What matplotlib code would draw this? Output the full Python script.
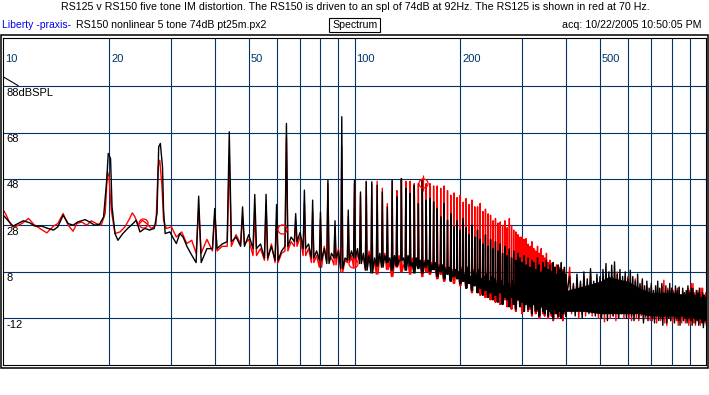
import matplotlib
matplotlib.use("Agg")
import matplotlib.pyplot as plt
from matplotlib.patches import Rectangle
from matplotlib.lines import Line2D
import matplotlib.transforms as mtransforms

plt.rcParams['font.family'] = ['Liberation Sans', 'DejaVu Sans']

# ---------------- values ----------------
# RS150 (black) below the comb, 10..34 Hz
blk_lo_f = [10.0, 10.3, 10.66, 11.0, 11.4, 11.9, 12.3, 12.85, 13.4, 13.9,
            14.3, 14.8, 15.3, 15.8, 16.3, 17.1, 17.6, 18.2, 18.8, 19.3,
            19.7, 19.9, 20.2, 20.4, 20.8, 21.2, 21.9, 22.6, 23.4, 23.9,
            24.5, 25.3, 26.1, 26.9, 27.4, 27.7, 28.0, 28.4, 28.6, 28.9,
            29.8, 30.5, 31.1, 31.8, 32.5, 33.4, 34.4]
blk_lo_db = [32.4, 30.2, 27.7, 28.8, 30.0, 29.1, 27.7, 27.7, 26.7, 26.0,
             27.4, 32.4, 28.8, 28.1, 29.5, 30.5, 29.5, 28.1, 28.5, 31.7,
             47.5, 59.0, 56.8, 36.0, 24.5, 21.6, 24.5, 26.7, 28.8, 30.2,
             25.2, 26.7, 26.0, 26.7, 33.1, 61.8, 63.3, 53.2, 34.6, 24.5,
             25.2, 22.4, 20.2, 24.5, 23.0, 18.7, 15.2]

# RS125 (red) below the comb
red_lo_f = [10.0, 10.2, 10.4, 10.6, 10.9, 11.3, 11.8, 12.2, 12.7, 13.3,
            13.9, 14.3, 14.8, 15.3, 15.8, 16.2, 16.7, 17.3, 17.8, 18.4,
            19.0, 19.5, 19.8, 20.0, 20.3, 20.8, 21.5, 22.2, 22.9, 23.3,
            23.7, 24.2, 24.9, 25.6, 26.4, 27.2, 27.6, 27.9, 28.3, 28.6,
            29.1, 30.1, 31.1, 32.2, 33.3, 34.4]
red_lo_db = [34.6, 32.4, 29.5, 27.4, 27.7, 28.8, 31.0, 28.5, 26.7, 24.8,
             27.7, 28.8, 33.1, 28.1, 25.5, 28.8, 29.5, 28.1, 30.0, 28.8,
             28.1, 33.1, 51.0, 48.9, 34.6, 24.5, 25.2, 27.4, 31.0, 33.4,
             31.7, 28.1, 30.2, 28.8, 26.7, 28.1, 53.2, 56.1, 44.6, 30.2,
             26.7, 27.4, 23.0, 25.2, 20.2, 21.6]

# IM comb lines 36..400 Hz (4 Hz apart)
comb_f = [36, 40, 44, 48, 52, 56, 60, 64, 68, 72,
          76, 80, 84, 88, 92, 96, 100, 104, 108, 112,
          116, 120, 124, 128, 132, 136, 140, 144, 148, 152,
          156, 160, 164, 168, 172, 176, 180, 184, 188, 192,
          196, 200, 204, 208, 212, 216, 220, 224, 228, 232,
          236, 240, 244, 248, 252, 256, 260, 264, 268, 272,
          276, 280, 284, 288, 292, 296, 300, 304, 308, 312,
          316, 320, 324, 328, 332, 336, 340, 344, 348, 352,
          356, 360, 364, 368, 372, 376, 380, 384, 388, 392,
          396, 400]

blk_top = [40.6, 35.3, 68.3, 36.0, 41.3, 41.4, 37.0, 71.9, 33.1, 43.2,
           38.9, 33.8, 47.5, 30.0, 74.8, 34.6, 47.5, 42.4, 46.8, 46.8,
           45.3, 42.4, 36.0, 47.5, 40.3, 48.2, 44.0, 41.8, 45.3, 37.4,
           47.5, 38.9, 39.6, 38.1, 35.3, 31.7, 37.4, 30.2, 33.0, 27.4,
           30.0, 26.0, 31.0, 27.0, 24.0, 28.0, 23.0, 26.0, 22.0, 20.0,
           24.0, 19.0, 22.0, 18.0, 21.0, 17.0, 20.0, 16.0, 19.0, 15.0,
           18.0, 14.0, 17.0, 13.0, 16.0, 14.0, 12.0, 15.0, 11.0, 14.0,
           10.0, 13.0, 12.0, 9.0, 14.0, 11.0, 8.0, 12.0, 10.0, 13.0,
           9.0, 11.0, 8.0, 12.0, 10.0, 7.0, 11.0, 9.0, 12.0, 8.0,
           10.0, 7.0]
blk_bot = [12, 18, 21, 19, 18, 14, 13, 19, 21, 18,
           14, 13, 11.6, 14, 9.4, 13, 14, 11.6, 8.7, 7.5,
           10.5, 10, 12, 8.7, 10.5, 13, 8.7, 10.5, 7.5, 9.4,
           7.5, 10, 8, 9, 6, 8, 5, 7, 4, 6,
           5, 3, 4, 1, 3, 0, 2, -1, 1, -2,
           0, -3, -1, -4, -2, -5, -1, -6, -3, -4,
           -7, -3, -6, -8, -4, -7, -5, -9, -6, -8,
           -7, -10, -6, -9, -8, -11, -7, -9, -10, -8,
           -11, -9, -10, -12, -8, -10, -11, -9, -12, -10,
           -9, -11]
blk_mid = [18, 20, 23, 24, 20, 19, 17, 23, 25, 20,
           17, 18, 16, 17, 14, 17, 18, 16, 15, 14,
           16, 15, 14, 15, 13, 14, 15, 12, 14, 13,
           12, 13, 11, 12, 10, 11, 9, 10, 8, 9,
           8, 9, 7, 10, 6, 8, 7, 9, 5, 6,
           7, 4, 6, 5, 3, 6, 4, 2, 5, 3,
           1, 4, 2, 3, 0, 2, 3, -1, 2, 1,
           0, 2, -2, 1, 0, -1, 2, -3, 0, 1,
           -2, 0, 1, -3, -1, 0, -2, 1, -1, -3,
           0, -1]

red_top = [35, 33, 58, 31.7, 33, 37.4, 30, 66, 30, 38,
           34, 31, 46, 28, 62, 32, 46, 41, 47, 46,
           47, 44, 37.4, 47, 43, 48, 47, 47, 46, 46,
           48, 46, 46, 45, 45, 44, 45, 43, 41, 42,
           40, 41, 38, 39.6, 37, 38.9, 36, 36, 37.5, 34,
           35, 33, 32.4, 30, 31, 29, 29.5, 28, 30, 27,
           31, 28, 26, 25.2, 24, 23, 23, 22, 22.3, 20,
           19, 21, 18, 17, 19, 16, 18, 15, 14, 16,
           12, 13, 11.7, 12, 10, 11, 9, 10, 8, 9,
           8.8, 7]
red_bot = [16, 17, 19, 20, 15, 13, 12, 17, 19, 15,
           12, 10, 13, 11, 8, 12, 10, 13, 9, 11,
           7, 12, 9, 6, 10, 8, 11, 7, 9, 10,
           6, 8, 7, 9, 5, 7, 4, 8, 5, 3,
           6, 2, 4, 1, 5, -1, 3, 0, -2, 2,
           -3, 1, -4, -1, -5, 0, -6, -2, -4, -7,
           -3, -8, -5, -9, -4, -6, -10, -7, -5, -9,
           -8, -11, -6, -10, -9, -12, -7, -10, -11, -8,
           -12, -9, -11, -13, -10, -8, -12, -11, -9, -13,
           -10, -11]
red_mid = [22, 19, 24, 22, 18, 20, 16, 21, 23, 18,
           15, 19, 14, 18, 13, 15, 16, 14, 17, 12,
           14, 16, 12, 13, 15, 11, 13, 14, 12, 11,
           13, 10, 12, 9, 11, 8, 10, 7, 9, 8,
           7, 10, 6, 8, 5, 9, 4, 7, 3, 6,
           5, 3, 6, 2, 4, 1, 3, 0, 2, -1,
           3, 0, 2, -2, 1, -1, 0, -3, 1, -2,
           -1, -3, 0, -2, -4, 0, -1, -3, -2, -4,
           -3, -1, -4, -2, -5, -3, -1, -4, -2, -5,
           -3, -4]

# noise fuzz 410..1000 Hz: upper / lower excursions every 10 Hz
hf_f = [410, 420, 430, 440, 450, 460, 470, 480, 490, 500,
        510, 520, 530, 540, 550, 560, 570, 580, 590, 600,
        610, 620, 630, 640, 650, 660, 670, 680, 690, 700,
        710, 720, 730, 740, 750, 760, 770, 780, 790, 800,
        810, 820, 830, 840, 850, 860, 870, 880, 890, 900,
        910, 920, 930, 940, 950, 960, 970, 980, 990, 1000]
blk_hf_top = [6, 3, 7, 4, 8, 5, 9.4, 4, 7, 6,
              9, 11.6, 8, 10.9, 12.3, 7, 9, 6, 8, 5,
              8.7, 6, 4, 7, 3, 5, 2, 4, 1, 3,
              0, 2, 4, 1, 3, -1, 2, 0, 3, 1,
              -1, 2, 0, 1.5, -2, 1, -1, 0, 2, -1,
              1, 0.8, -2, 0, -1, 1, -3, -1, -2, -3]
blk_hf_bot = [-9, -11, -8, -12, -9, -10, -8, -11, -9, -12,
              -10, -13, -9, -11, -8, -12, -10, -9, -12, -10,
              -11, -13, -9, -12, -10, -14, -11, -13, -10, -12,
              -14, -11, -13, -12, -15, -11, -14, -12, -13, -11,
              -14, -12, -13, -15, -11, -13, -12, -14, -12, -13,
              -15, -12, -14, -13, -15, -12, -14, -16, -13, -15]
red_hf_top = [10, 2, 4, 3, 6, 2, 7, 3, 5, 2,
              5, 8, 4, 6, 3, 8, 5, 3, 6, 6,
              3, 2, 5, 1, 2, 4, 0, 2, -1, 2,
              -1, 0, 1, -2, 2, 4.4, -1, 1, 0, -2,
              0, -1, 1, 1, -2, 0, -1, -3, 1, 0,
              3, 3, -1, -2, 0, -1, 1, 1, -2, -1]
red_hf_bot = [-10, -9, -12, -10, -11, -9, -11, -10, -12, -11,
              -13.5, -10, -12, -11, -13, -12, -10, -12, -11, -12,
              -13, -11, -12, -13, -11, -13, -12, -11, -13, -13,
              -12, -14, -12, -13, -12, -14, -15, -12, -13, -14,
              -12, -13, -15, -13, -14, -12, -14, -13, -15, -14,
              -13, -14, -15, -12, -14, -15, -13, -15, -14, -13]

# dense core of the black fuzz
core_f = [400, 450, 500, 530, 560, 600, 650, 700, 800, 900, 1000]
core_lo = [-9, -9, -10, -10, -10, -10, -10, -11, -11, -11, -13]
core_hi = [0, 2, 4, 6, 5, 4, 1, -1, -1, -2, -4]

# markers
circ_f = [25.0, 62.0, 99.2]
circ_db = [29.1, 26.6, 11.8]
cursor_f = [156.5]
cursor_db = [46.2]

grid_f = [20, 30, 40, 50, 60, 70, 80, 90, 100, 200, 300, 400, 500, 600, 700, 800, 900]
grid_db = [88, 68, 48, 28, 8, -12]
xlab_f = [10, 20, 50, 100, 200, 500]
ylab = ['88dBSPL', '68', '48', '28', '8', '-12']

GRID = '#003366'


def trace(lo_f, lo_db, top, bot, mid, hf_top, hf_bot):
    # narrow spike on every comb line, noisy floor in between
    xs, ys = list(lo_f), list(lo_db)
    for fi, t, b, m in zip(comb_f, top, bot, mid):
        xs += [fi - 0.6, fi, fi + 0.6, fi + 2]
        ys += [b, t, b, m]
    for fi, t, b in zip(hf_f, hf_top, hf_bot):
        xs += [fi, fi + 5]
        ys += [t, b]
    return xs, ys


fig = plt.figure(figsize=(7.09, 3.95), dpi=100)
W, H = 709.0, 395.0
ax = fig.add_axes([3.3 / W, 30 / H, 702.4 / W, 327 / H])
ax.set_xscale('log')
ax.set_xlim(10, 1000)
ax.set_ylim(-32.1, 108.7)
ax.xaxis.set_major_locator(matplotlib.ticker.NullLocator())
ax.xaxis.set_minor_locator(matplotlib.ticker.NullLocator())
ax.yaxis.set_major_locator(matplotlib.ticker.NullLocator())
for s in ax.spines.values():
    s.set_linewidth(0.8)

for g in grid_f:
    ax.axvline(g, color=GRID, lw=0.8, zorder=1)
for g in grid_db:
    ax.axhline(g, color=GRID, lw=0.8, zorder=1)

rx, ry = trace(red_lo_f, red_lo_db, red_top, red_bot, red_mid, red_hf_top, red_hf_bot)
ax.plot(rx, ry, color='red', lw=1.0, zorder=2)

ax.fill_between(core_f, core_lo, core_hi, color='black', lw=0, zorder=3)
bx, by = trace(blk_lo_f, blk_lo_db, blk_top, blk_bot, blk_mid, blk_hf_top, blk_hf_bot)
ax.plot(bx, by, color='black', lw=1.0, zorder=3)

# markers
ax.plot(circ_f, circ_db, 'o', ms=6.5, mfc='none', mec='red', mew=0.9, zorder=4)
ax.plot(cursor_f, cursor_db, 'o', ms=6.5, mfc='none', mec='red', mew=0.9, zorder=4)
ax.plot(cursor_f, cursor_db, '|', ms=11, mec='red', mew=0.9, zorder=4)

# labels inside the plot
xl_tr = mtransforms.offset_copy(ax.get_xaxis_transform(), fig=fig, x=2, y=0, units='dots')
for f in xlab_f:
    ax.text(f, (365 - 59) / 327, str(f), transform=xl_tr, color=GRID,
            fontsize=8, ha='left', va='center')
yl_tr = mtransforms.offset_copy(ax.get_yaxis_transform(), fig=fig, x=0, y=-6.5, units='dots')
for v, t in zip(grid_db, ylab):
    ax.text(3 / 702.4, v, t, transform=yl_tr, color='black', fontsize=8,
            ha='left', va='center')

# little level marker at top left
ax.add_line(Line2D([0.0003, 0.0209], [0.8807, 0.8547], transform=ax.transAxes,
                   color='black', lw=0.8))

# outer frame
fig.patches.append(Rectangle((0.7 / W, (H - 368) / H), 707.6 / W, 333.5 / H,
                             transform=fig.transFigure, fill=False, ec='black', lw=1.1))

# header
fig.text(355 / W, 1 - 7.5 / H,
         'RS125 v RS150 five tone IM distortion. The RS150 is driven to an spl of 74dB at 92Hz. '
         'The RS125 is shown in red at 70 Hz.', ha='center', va='center', fontsize=7.7)
fig.text(2 / W, 1 - 25.5 / H, 'Liberty -praxis-', color='#0000ee', ha='left', va='center', fontsize=7.5)
fig.text(76 / W, 1 - 25.5 / H, 'RS150 nonlinear 5 tone 74dB pt25m.px2', ha='left', va='center', fontsize=7.6)
fig.text(355 / W, 1 - 25.5 / H, 'Spectrum', ha='center', va='center', fontsize=7.6)
fig.patches.append(Rectangle((329 / W, 1 - 32.3 / H), 51 / W, 14 / H,
                             transform=fig.transFigure, fill=False, ec='black', lw=0.8))
fig.text(701 / W, 1 - 25.5 / H, 'acq: 10/22/2005 10:50:05 PM', ha='right', va='center', fontsize=7.7)

fig.savefig('out.png', dpi=100)
